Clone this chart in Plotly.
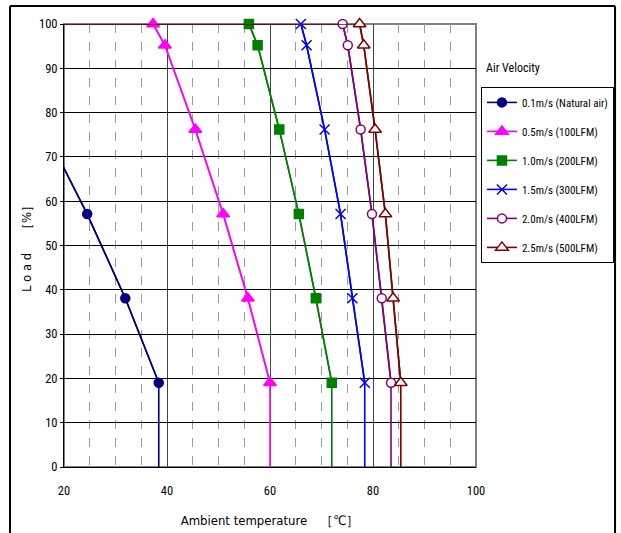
import plotly.graph_objects as go

# ---- data ----
load_pct = [100, 95.2, 76.2, 57.1, 38.1, 19.0]
series_names = [
    "0.1m/s (Natural air)",
    "0.5m/s (100LFM)",
    "1.0m/s (200LFM)",
    "1.5m/s (300LFM)",
    "2.0m/s (400LFM)",
    "2.5m/s (500LFM)",
]
temp_natural = [4.0, 7.0, 16.2, 24.5, 31.9, 38.4]
temp_05 = [37.3, 39.6, 45.5, 50.9, 55.7, 60.0]
temp_10 = [55.9, 57.6, 61.8, 65.6, 68.9, 72.0]
temp_15 = [66.0, 67.1, 70.6, 73.7, 76.0, 78.4]
temp_20 = [74.1, 75.1, 77.6, 79.8, 81.7, 83.5]
temp_25 = [77.4, 78.2, 80.4, 82.4, 83.9, 85.4]
full_load_start = 20
zero_load = 0

x_ticks = [20, 40, 60, 80, 100]
y_ticks = [0, 10, 20, 30, 40, 50, 60, 70, 80, 90, 100]

temps = [temp_natural, temp_05, temp_10, temp_15, temp_20, temp_25]
colors = ["#000080", "#FF00FF", "#008000", "#0000FF", "#800080", "#800000"]
symbols = ["circle", "triangle-up", "square", "x-thin-open", "circle", "triangle-up"]
fills = ["#000080", "#FF00FF", "#008000", "#0000FF", "#FFFFFF", "#FFFFFF"]
sizes = [9, 11, 9, 10, 9, 11]

FONT = "DejaVu Sans Condensed, sans-serif"
LFONT = "Roboto Condensed, DejaVu Sans Condensed, sans-serif"

fig = go.Figure()
for i, (name, t) in enumerate(zip(series_names, temps)):
    c = colors[i]
    fig.add_trace(go.Scatter(
        x=[full_load_start] + t + [t[-1]],
        y=[100] + load_pct + [zero_load],
        mode="lines", line=dict(color=c, width=1.6),
        showlegend=False, legendgroup=f"g{i}", hoverinfo="skip"))
    fig.add_trace(go.Scatter(
        x=t, y=load_pct, name=name, legendgroup=f"g{i}",
        mode="lines+markers", line=dict(color=c, width=1.6),
        cliponaxis=False,
        marker=dict(symbol=symbols[i], size=sizes[i], color=fills[i],
                    line=dict(color=c, width=1.5))))

# outer frame (top, left, right)
fl, fr, ft, fb = -0.131, 1.3375, 1.0406, -0.3
for (a, b, c_, d) in [(fl, ft, fr, ft), (fl, fb, fl, ft), (fr, fb, fr, ft)]:
    fig.add_shape(type="line", xref="paper", yref="paper",
                  x0=a, y0=b, x1=c_, y1=d,
                  line=dict(color="#000000", width=2), layer="above")
# plot border top/right (gray)
fig.add_shape(type="rect", xref="paper", yref="paper",
              x0=0, x1=1, y0=0, y1=1,
              line=dict(color="#808080", width=2), layer="below")

fig.add_annotation(text="Air Velocity", xref="paper", yref="paper",
                   x=1.02, y=0.90, xanchor="left", yanchor="middle",
                   showarrow=False, font=dict(size=12, color="#000", family=LFONT))

fig.update_layout(
    width=621, height=533,
    margin=dict(l=64, r=145, t=24, b=66, autoexpand=False),
    paper_bgcolor="white", plot_bgcolor="white",
    font=dict(family=FONT, size=11, color="#000"),
    showlegend=True,
    legend=dict(x=1.012, y=0.858, xanchor="left", yanchor="top",
                bordercolor="#000", borderwidth=1, bgcolor="white",
                traceorder="grouped", tracegroupgap=10,
                font=dict(size=11, family=LFONT), itemwidth=30),
    xaxis=dict(range=[20, 100], tickvals=x_ticks, ticktext=[str(v) for v in x_ticks],
               automargin=False,
               showline=True, linecolor="#000", linewidth=1,
               showgrid=True, gridcolor="#444", gridwidth=1,
               zeroline=False, ticks="", ticklabelstandoff=12,
               tickfont=dict(size=12.5, family=LFONT),
               minor=dict(dtick=5, showgrid=True, gridcolor="#9a9a9a", griddash="dash", gridwidth=1),
               title=dict(text="Ambient temperature　［℃］", standoff=18,
                          font=dict(size=13, family=FONT))),
    yaxis=dict(range=[0, 100], tickvals=y_ticks, ticktext=[str(v) for v in y_ticks],
               automargin=False,
               showline=True, linecolor="#000", linewidth=1,
               showgrid=True, gridcolor="#000", gridwidth=1,
               zeroline=False, ticks="outside", ticklen=3, tickcolor="#000",
               tickfont=dict(size=12.5, family=LFONT),
               title=dict(text="L o a d 　［%］", standoff=4,
                          font=dict(size=13, family=FONT))),
)

fig.write_html("out.html", config={"displayModeBar": False},
               post_script="document.body.style.margin='0';document.body.style.overflow='hidden';")
